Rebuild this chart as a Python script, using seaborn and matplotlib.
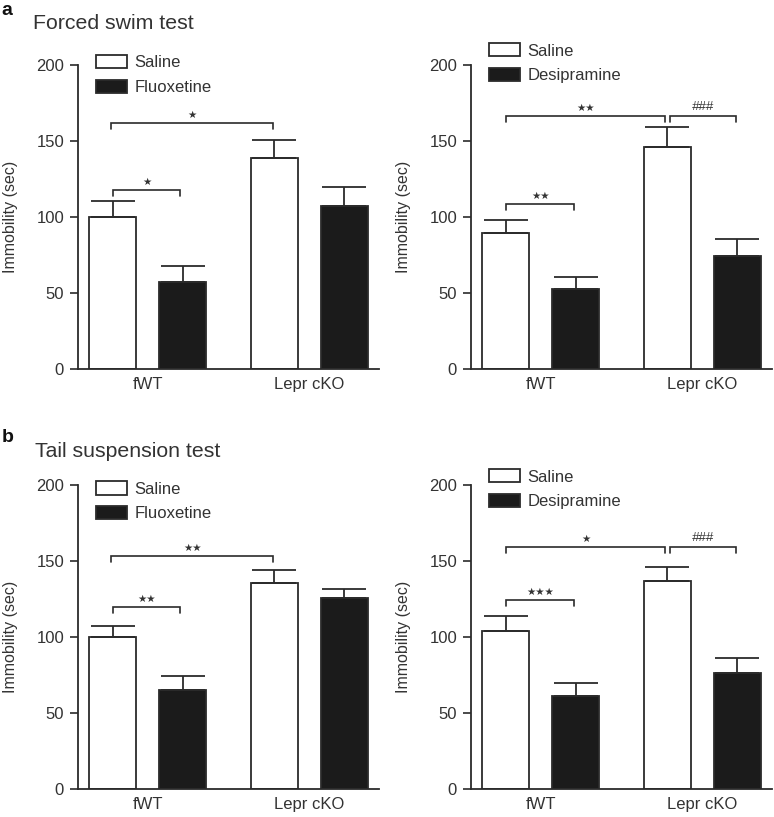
import numpy as np
import pandas as pd
import matplotlib
matplotlib.use("Agg")
import matplotlib.pyplot as plt
import seaborn as sns
from matplotlib.patches import Patch

# data (mean, upper SEM)
groups = ["fWT", "Lepr cKO"]

fst_flx_saline = [100, 139]
fst_flx_saline_err = [10.7, 11.7]
fst_flx_drug = [57.5, 107]
fst_flx_drug_err = [10.0, 12.5]

fst_des_saline = [89.5, 146]
fst_des_saline_err = [8.7, 13.2]
fst_des_drug = [52.7, 74.5]
fst_des_drug_err = [8.0, 11.0]

tst_flx_saline = [99.7, 135.5]
tst_flx_saline_err = [7.4, 8.8]
tst_flx_drug = [65, 125.4]
tst_flx_drug_err = [9.2, 6.1]

tst_des_saline = [104, 137]
tst_des_saline_err = [9.7, 8.9]
tst_des_drug = [61, 76.4]
tst_des_drug_err = [8.8, 10.1]

# significance brackets: (x start, x end, y, label)
fst_flx_brackets = [(-0.214, 0.201, 117.8, "★"), (-0.226, 0.777, 161.6, "★")]
fst_des_brackets = [(-0.211, 0.205, 108.6, "★★"), (-0.211, 0.768, 166.7, "★★"),
                    (0.797, 1.205, 166.7, "###")]
tst_flx_brackets = [(-0.214, 0.201, 119.7, "★★"), (-0.226, 0.777, 153.6, "★★")]
tst_des_brackets = [(-0.211, 0.205, 124.5, "★★★"), (-0.211, 0.768, 159.0, "★"),
                    (0.797, 1.205, 159.0, "###")]

sns.set_style("ticks")
plt.rcParams['font.family'] = ['Liberation Sans', 'DejaVu Sans']

ink = "#2b2b2b"
txt = "#333333"

fig = plt.figure(figsize=(7.74, 8.17), dpi=100)


def panel(rect, drug, saline, saline_err, drugv, drug_err, brackets, leg_y):
    ax = fig.add_axes(rect)
    df = pd.DataFrame({
        "group": groups * 2,
        "treatment": ["Saline"] * 2 + [drug] * 2,
        "value": saline + drugv,
        "err": saline_err + drug_err,
    })
    sns.barplot(data=df, x="group", y="value", hue="treatment", ax=ax,
                palette={"Saline": "white", drug: "#1b1b1b"},
                width=0.867, gap=0.33, errorbar=None, legend=False,
                edgecolor=ink, linewidth=1.3)
    # upper error bars only
    bars = sorted(ax.patches, key=lambda p: p.get_x())
    order = df.sort_values(["group", "treatment"],
                           key=lambda s: s.map({"fWT": 0, "Lepr cKO": 1, "Saline": 0, drug: 1}))
    xs = [p.get_x() + p.get_width() / 2 for p in bars]
    ax.errorbar(xs, order["value"], yerr=[np.zeros(4), order["err"]],
                fmt="none", ecolor=ink, elinewidth=1.3, capsize=16, capthick=1.3)

    for x1, x2, y, lab in brackets:
        ax.plot([x1, x1, x2, x2], [y - 4, y, y, y - 4], color=ink, lw=1.2,
                solid_joinstyle="miter")
        if "#" in lab:
            ax.text((x1 + x2) / 2, y + 2.0, lab, ha="center", va="bottom",
                    fontsize=9.5, color=txt, style="italic")
        else:
            ax.text((x1 + x2) / 2, y + 2.0, lab, ha="center", va="bottom",
                    fontsize=7.5, color=txt, family="DejaVu Sans")

    ax.set_ylim(0, 200)
    ax.set_xlim(-0.43, 1.43)
    ax.set_yticks([0, 50, 100, 150, 200])
    ax.set_xlabel("")
    ax.set_ylabel("Immobility (sec)", fontsize=11.5, color=txt)
    ax.yaxis.set_label_coords(-0.2, 0.5)
    ax.tick_params(axis="y", length=6, width=1.2, color=ink, labelsize=12,
                   labelcolor=txt, pad=4)
    ax.tick_params(axis="x", length=0, labelsize=12, labelcolor=txt, pad=6)
    sns.despine(ax=ax)
    for s in ["left", "bottom"]:
        ax.spines[s].set_color(ink)
        ax.spines[s].set_linewidth(1.3)

    handles = [Patch(facecolor="white", edgecolor=ink, linewidth=1.3, label="Saline"),
               Patch(facecolor="#1b1b1b", edgecolor=ink, linewidth=1.3, label=drug)]
    leg = ax.legend(handles=handles, loc="upper left", bbox_to_anchor=(0.06, leg_y),
                    frameon=False, fontsize=12, handlelength=1.85, handleheight=0.85,
                    labelspacing=0.55, handletextpad=0.45, borderpad=0, borderaxespad=0)
    for t in leg.get_texts():
        t.set_color(txt)
    return ax


W = 301 / 774
H = 304 / 817
panel([78 / 774, 1 - 369 / 817, W, H], "Fluoxetine", fst_flx_saline, fst_flx_saline_err,
      fst_flx_drug, fst_flx_drug_err, fst_flx_brackets, 1.033)
panel([471 / 774, 1 - 369 / 817, W, H], "Desipramine", fst_des_saline, fst_des_saline_err,
      fst_des_drug, fst_des_drug_err, fst_des_brackets, 1.072)
panel([78 / 774, 1 - 789 / 817, W, H], "Fluoxetine", tst_flx_saline, tst_flx_saline_err,
      tst_flx_drug, tst_flx_drug_err, tst_flx_brackets, 1.012)
panel([471 / 774, 1 - 789 / 817, W, H], "Desipramine", tst_des_saline, tst_des_saline_err,
      tst_des_drug, tst_des_drug_err, tst_des_brackets, 1.052)

fig.text(0.002, 0.982, "a", fontsize=14, fontweight="bold", va="baseline", color="#111111")
fig.text(0.042, 0.964, "Forced swim test", fontsize=15.3, va="baseline", color=txt)
fig.text(0.002, 0.4594, "b", fontsize=14, fontweight="bold", va="baseline", color="#111111")
fig.text(0.045, 0.4403, "Tail suspension test", fontsize=15.3, va="baseline", color=txt)

fig.savefig("out.png", dpi=100)
